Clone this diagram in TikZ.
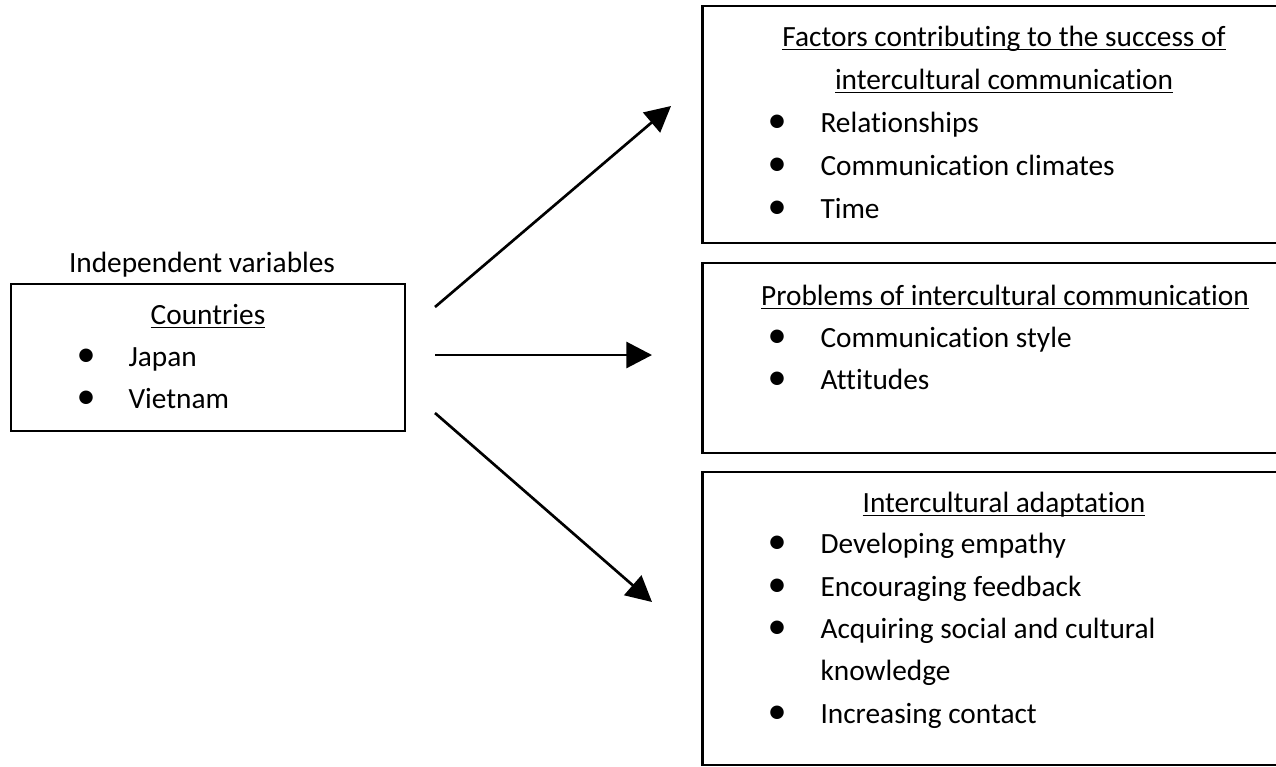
\documentclass[tikz,border=0pt]{standalone}
\usepackage{fontspec}
\setmainfont{Carlito}[Ligatures=NoCommon]
\usetikzlibrary{arrows.meta,positioning,fit}

\newcommand{\ulabel}[1]{\underline{\smash{#1}}}
\newcommand{\bigdot}{\scalebox{1.3}{\textbullet}}

\begin{document}
\begin{tikzpicture}[
    x=0.375pt, y=-0.375pt,
    frame/.style={draw, line width=0.8pt, inner sep=0pt},
    txt/.style={inner sep=0pt, anchor=base west, font=\fontsize{11}{13}\selectfont},
    ttl/.style={inner sep=0pt, anchor=base, font=\fontsize{11}{13}\selectfont},
    dot/.style={inner sep=0pt, anchor=base, font=\fontsize{11}{13}\selectfont},
    flow/.style={-{Triangle[length=9.6pt,width=9.75pt]}, line width=1pt}
]
    \useasboundingbox (0,0) rectangle (1276,766);
    \clip (0,0) rectangle (1276,766);

    % Independent variables
    \node[frame, fit={(10.7,284) (405,431)}] (countrybox) {};
    \node[ttl] (ivlabel) at (202,272) {Independent variables};
    \node[ttl] (countrytitle) at (208,324) {\ulabel{Countries}};
    \foreach \name [count=\i from 0] in {Japan,Vietnam} {
        \node[dot] (cdot\i) at (86,366.7+41.5*\i) {\bigdot};
        \node[txt] (country\i) at (128,366.7+41.5*\i) {\name};
    }

    % Factors contributing to the success
    \node[frame, fit={(702.5,6) (1304,242.7)}] (factorsbox) {};
    \node[ttl] (factorstitle) at (1004,46) {\ulabel{Factors contributing to the success of}};
    \node[ttl] (factorstitleb) at (1004,89) {\ulabel{intercultural communication}};
    \foreach \name [count=\i from 0] in {Relationships,Communication climates,Time} {
        \node[dot] (fdot\i) at (777,132+43*\i) {\bigdot};
        \node[txt] (factor\i) at (820,132+43*\i) {\name};
    }

    % Problems
    \node[frame, fit={(702.5,262.7) (1304,452.7)}] (problemsbox) {};
    \node[ttl] (problemstitle) at (1005,305) {\ulabel{Problems of intercultural communication}};
    \foreach \name [count=\i from 0] in {Communication style,Attitudes} {
        \node[dot] (pdot\i) at (777,347+42*\i) {\bigdot};
        \node[txt] (problem\i) at (820,347+42*\i) {\name};
    }

    % Intercultural adaptation
    \node[frame, fit={(702.5,472.3) (1304,765)}] (adaptbox) {};
    \node[ttl] (adapttitle) at (1004,512) {\ulabel{Intercultural adaptation}};
    \foreach \y/\name [count=\i from 0] in {553/Developing empathy,596/Encouraging feedback,638/Acquiring social and cultural,723/Increasing contact} {
        \node[dot] (adot\i) at (777,\y) {\bigdot};
        \node[txt] (adapt\i) at (820,\y) {\name};
    }
    \node[txt] (adaptcont) at (820,680) {knowledge};

    % Arrows
    \coordinate (upfrom) at (435,307);
    \coordinate (upto) at (671,106);
    \coordinate (midfrom) at (435,355);
    \coordinate (midto) at (652,355);
    \coordinate (downfrom) at (435,413);
    \coordinate (downto) at (652,602);
    \draw[flow] (upfrom) -- (upto);
    \draw[flow] (midfrom) -- (midto);
    \draw[flow] (downfrom) -- (downto);
\end{tikzpicture}
\end{document}
